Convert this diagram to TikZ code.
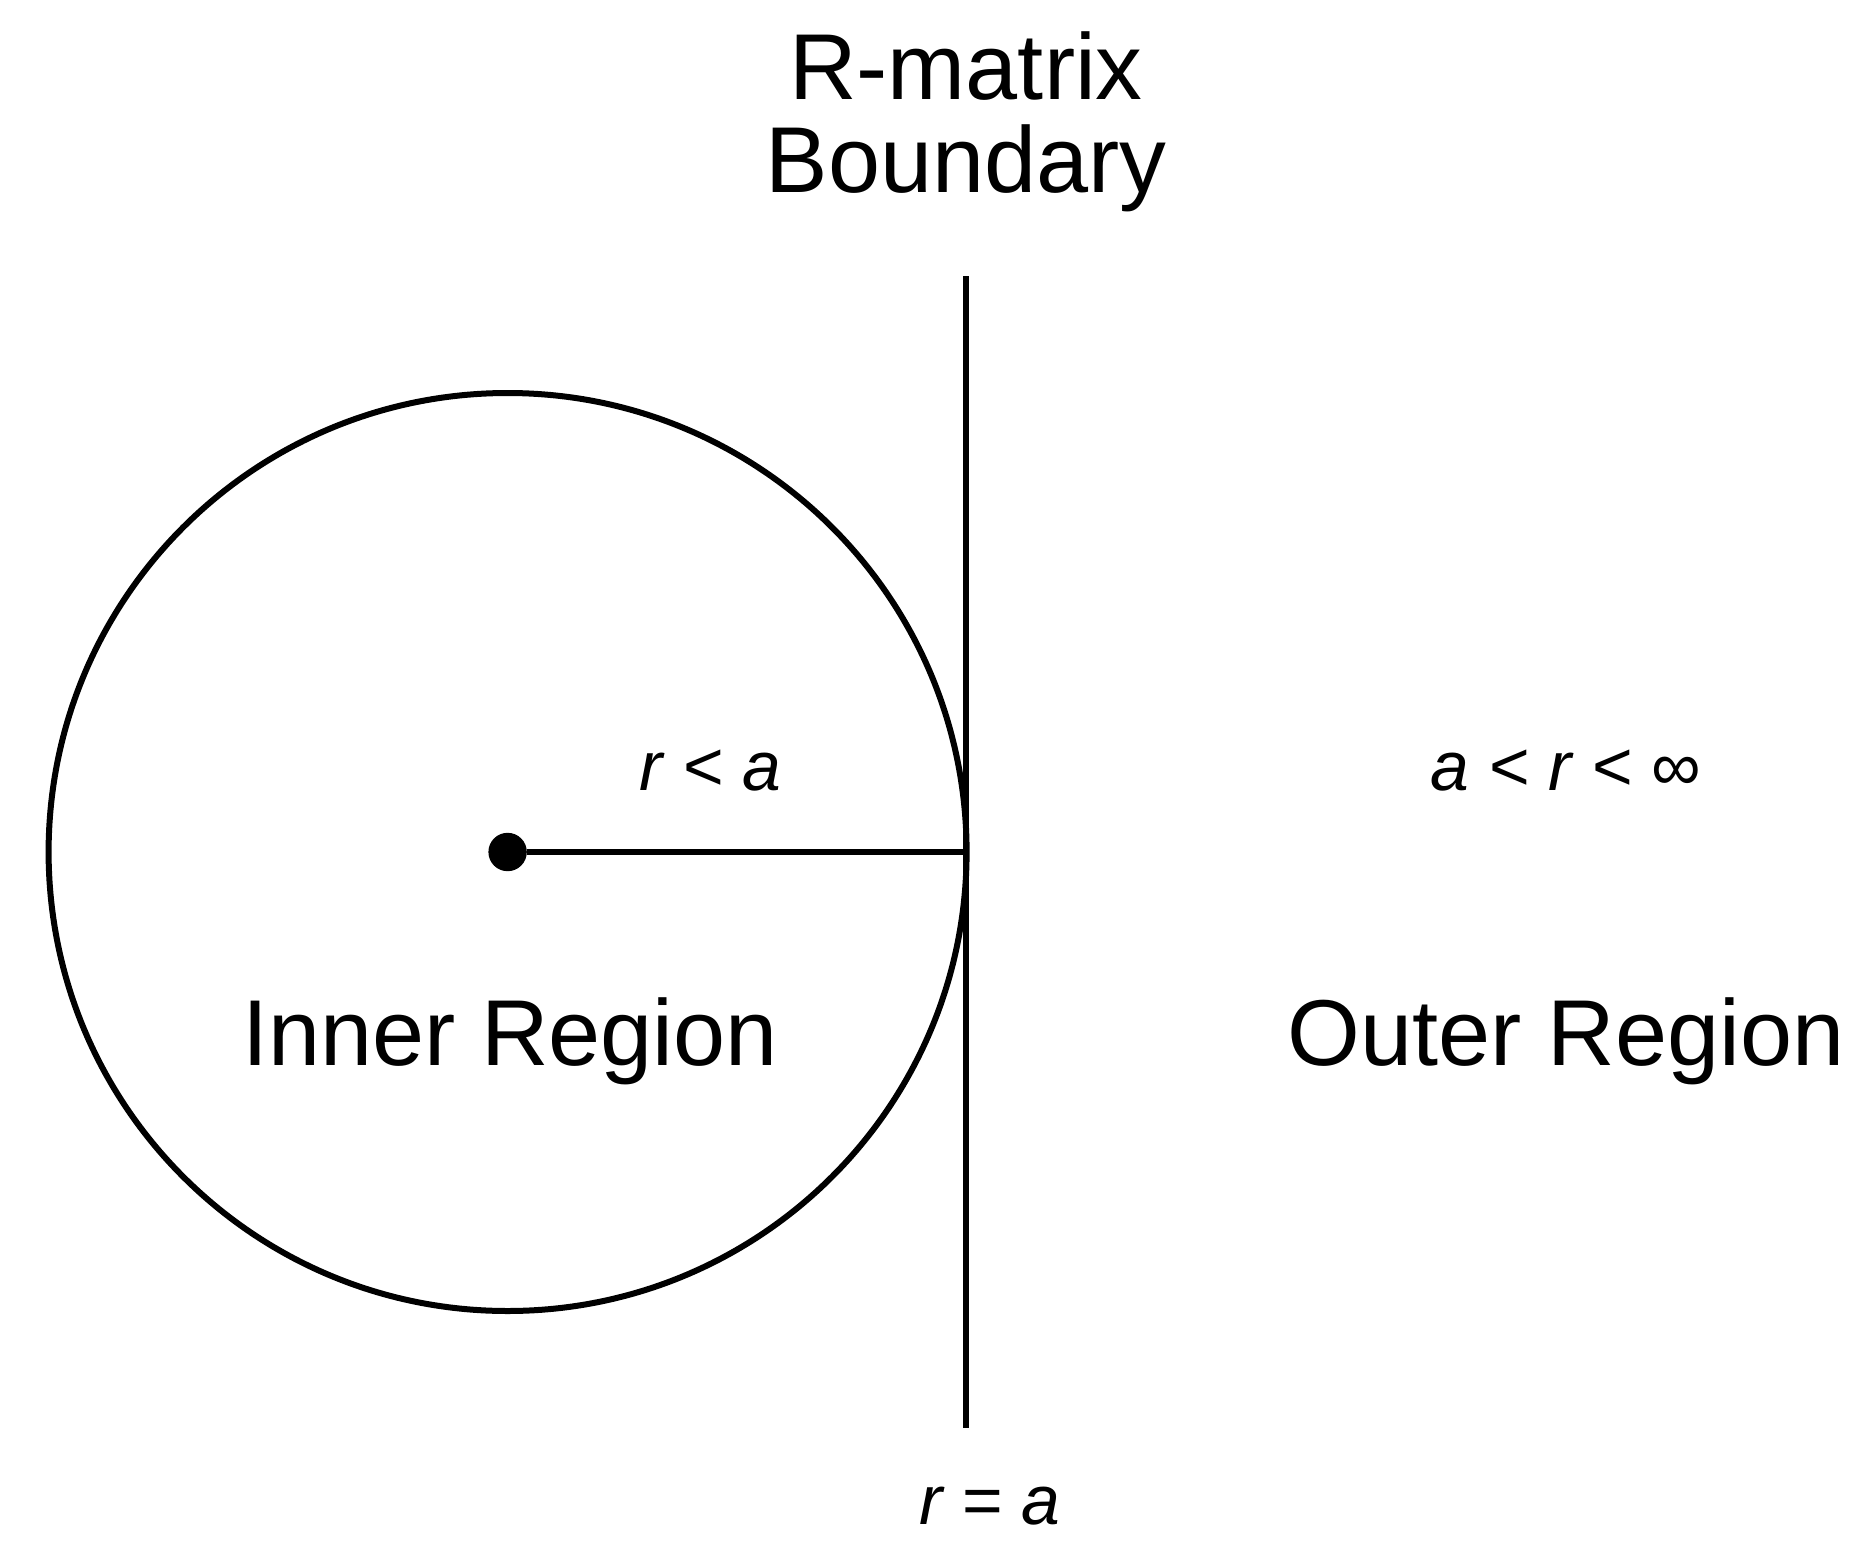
\documentclass[tikz,border=0pt]{standalone}
\usepackage{fontspec}
\setmainfont{Liberation Sans}
\begin{document}
\begin{tikzpicture}[x=1pt,y=-1pt,
  lbl/.style={font=\fontsize{78}{86}\selectfont, inner sep=0pt, align=center},
  mlbl/.style={font=\fontsize{58}{64}\selectfont\itshape, inner sep=0pt},
  ln/.style={line width=5pt}]
\useasboundingbox (0,0) rectangle (1560,1292.5);
\node[ln, draw, circle, minimum size=765pt, inner sep=0pt] (c) at (423,710) {};
\coordinate (top) at (805,230);
\coordinate (bot) at (805,1190);
\draw[ln] (top) -- (bot);
\node[fill, circle, minimum size=32pt, inner sep=0pt] (ctr) at (423,710) {};
\coordinate (edge) at (805,710);
\draw[ln] (ctr) -- (edge);
\node[lbl] (t1) at (805,55) {R-matrix};
\node[lbl] (t2) at (805,140) {Boundary};
\node[mlbl] (ra) at (592,642) {r < a};
\node[mlbl] (ar) at (1305,642) {a < r < {\upshape ∞}};
\node[lbl] (ir) at (425,868) {Inner Region};
\node[lbl] (or) at (1305,868) {Outer Region};
\node[mlbl] (req) at (825,1255) {r = a};
\end{tikzpicture}
\end{document}
